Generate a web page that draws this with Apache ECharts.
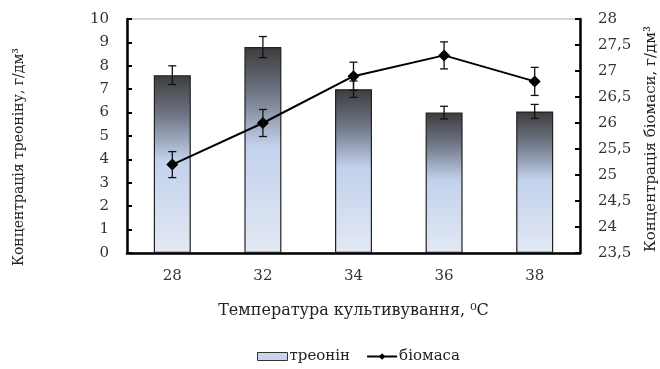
<!DOCTYPE html>
<html><head><meta charset="utf-8">
<script src="https://cdn.jsdelivr.net/npm/echarts@6/dist/echarts.min.js"></script>
<style>html,body{margin:0;padding:0;background:#fff}#c{width:660px;height:369px}</style>
</head><body><div id="c"></div>
<script>
const categories = ['28', '32', '34', '36', '38'];
const threonine = [7.6, 8.8, 7.0, 6.0, 6.05];
const threonineErr = [0.4, 0.45, 0.35, 0.27, 0.3];
const biomass = [25.2, 26.0, 26.9, 27.3, 26.8];
const biomassErr = [0.25, 0.26, 0.27, 0.26, 0.27];
const leftTicks = {min: 0, max: 10, interval: 1};
const rightTicks = {min: 23.5, max: 28, interval: 0.5};
const leftName = 'Концентрація треоніну, г/дм³';
const rightName = 'Концентрація біомаси, г/дм³';
const xName = 'Температура культивування, ⁰С';

const FONT = '"DejaVu Serif", "Liberation Serif", serif';
const chart = echarts.init(document.getElementById('c'));

function errRender() {
  return function (params, api) {
    const i = api.value(0);
    const v = api.value(1), e = api.value(2);
    const top = api.coord([i, v + e]);
    const bot = api.coord([i, v - e]);
    const w = 4;
    const st = {stroke: '#111', lineWidth: 1.3};
    return {type: 'group', children: [
      {type: 'line', shape: {x1: top[0], y1: top[1], x2: bot[0], y2: bot[1]}, style: st},
      {type: 'line', shape: {x1: top[0] - w, y1: top[1], x2: top[0] + w, y2: top[1]}, style: st},
      {type: 'line', shape: {x1: bot[0] - w, y1: bot[1], x2: bot[0] + w, y2: bot[1]}, style: st}
    ]};
  };
}

const barGrad = new echarts.graphic.LinearGradient(0, 0, 0, 1, [
  {offset: 0, color: '#3c3c3c'},
  {offset: 0.22, color: '#6e7584'},
  {offset: 0.48, color: '#c2d1ec'},
  {offset: 1, color: '#e3e9f4'}
]);

chart.setOption({
  animation: false,
  textStyle: {fontFamily: FONT},
  grid: {left: 127, right: 80, top: 19, bottom: 116, show: true, borderColor: '#aaa', borderWidth: 1},
  legend: {
    data: [{name: 'треонін', icon: 'rect', itemStyle: {color: '#c8d4ea', borderColor: '#333', borderWidth: 1}}, {name: 'біомаса'}],
    top: 344, left: 252, itemWidth: 30, itemHeight: 8, itemGap: 16,
    textStyle: {fontFamily: FONT, fontSize: 15, color: '#222', padding: [0, 0, 0, -3]}
  },
  graphic: [{
    type: 'text', x: 12, y: 157, rotation: Math.PI / 2,
    style: {text: leftName, font: '14px ' + FONT, fill: '#222', align: 'center', verticalAlign: 'top'}
  }, {
    type: 'text', x: 644, y: 139, rotation: Math.PI / 2,
    style: {text: rightName, font: '15px ' + FONT, fill: '#222', align: 'center', verticalAlign: 'top'}
  }],
  xAxis: {
    type: 'category', data: categories,
    name: xName, nameLocation: 'middle', nameGap: 50,
    nameTextStyle: {fontFamily: FONT, fontSize: 16, color: '#222'},
    axisLine: {lineStyle: {color: '#000', width: 2.5}},
    axisTick: {inside: true, alignWithLabel: true, length: 3, lineStyle: {color: '#000', width: 2}},
    axisLabel: {fontFamily: FONT, fontSize: 15, color: '#333', margin: 16}
  },
  yAxis: [{
    type: 'value', min: leftTicks.min, max: leftTicks.max, interval: leftTicks.interval,
    axisLine: {show: true, lineStyle: {color: '#000', width: 2.5}},
    axisTick: {show: true, inside: true, length: 5, lineStyle: {color: '#000', width: 2}},
    splitLine: {show: false},
    axisLabel: {fontFamily: FONT, fontSize: 15, color: '#333', margin: 18}
  }, {
    type: 'value', min: rightTicks.min, max: rightTicks.max, interval: rightTicks.interval,
    position: 'right',
    axisLine: {show: true, lineStyle: {color: '#000', width: 2.5}},
    axisTick: {show: true, inside: true, length: 5, lineStyle: {color: '#000', width: 2}},
    splitLine: {show: false},
    axisLabel: {fontFamily: FONT, fontSize: 15, color: '#333', margin: 18,
      formatter: v => String(v).replace('.', ',')}
  }],
  series: [{
    name: 'треонін', type: 'bar', data: threonine, barWidth: 37,
    itemStyle: {color: barGrad, borderColor: '#222', borderWidth: 1.2}, z: 2
  }, {
    name: 'треонінErr', type: 'custom', z: 3,
    data: threonine.map((v, i) => [i, v, threonineErr[i]]),
    renderItem: errRender(), encode: {x: 0, y: 1}
  }, {
    name: 'біомаса', type: 'line', yAxisIndex: 1, data: biomass,
    symbol: 'diamond', symbolSize: 12, z: 5,
    lineStyle: {color: '#000', width: 2}, itemStyle: {color: '#000'}
  }, {
    name: 'біомасаErr', type: 'custom', yAxisIndex: 1, z: 6,
    data: biomass.map((v, i) => [i, v, biomassErr[i]]),
    renderItem: errRender(), encode: {x: 0, y: 1}
  }]
});
</script></body></html>
